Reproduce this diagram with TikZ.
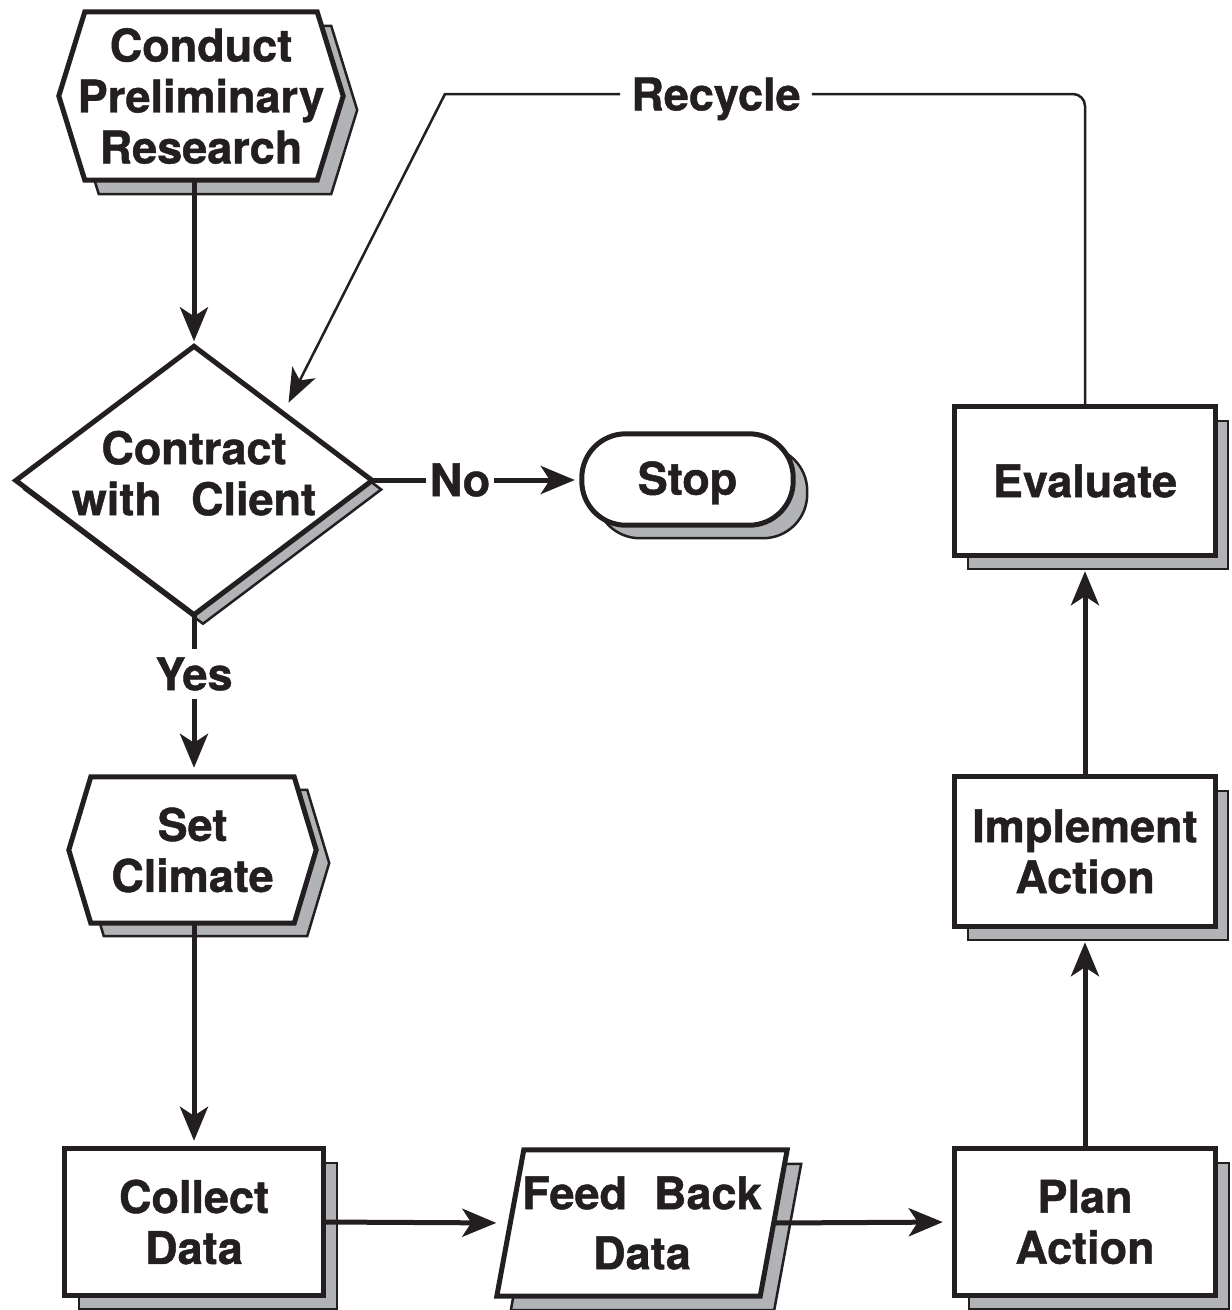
\documentclass[tikz,border=0pt]{standalone}
\usepackage{fontspec}
\setmainfont{TeX Gyre Heros}[BoldFeatures={FakeBold=1}]
\usetikzlibrary{arrows.meta,backgrounds,calc}
\definecolor{shadowgray}{HTML}{B1B3B6}
\definecolor{ink}{HTML}{231F20}

% outlines built from the anchors of a named node
\newcommand\hexpts[2]{(#1.west) -- ([xshift=#2]#1.north west) -- ([xshift=-#2]#1.north east) -- (#1.east) -- ([xshift=-#2]#1.south east) -- ([xshift=#2]#1.south west) -- cycle}
\newcommand\diapts[1]{(#1.north) -- (#1.east) -- (#1.south) -- (#1.west) -- cycle}
\newcommand\rectpts[1]{(#1.north west) rectangle (#1.south east)}
\newcommand\slantpts[2]{([xshift=#2]#1.north west) -- ([xshift=#2]#1.north east) -- ([xshift=-#2]#1.south east) -- ([xshift=-#2]#1.south west) -- cycle}

\tikzset{
  txt/.style={font=\fontsize{45}{51}\selectfont\bfseries, text=ink, align=center, inner sep=0pt},
  shapeline/.style={draw=ink, line width=5pt, fill=white, line join=miter, miter limit=10},
  shadowfill/.style={draw=ink, line width=2.5pt, fill=shadowgray, line join=miter, miter limit=10},
  drop/.style 2 args={transform canvas={shift={(#1pt,-#2pt)}}},
  conn/.style={draw=ink, line width=5pt},
  flow/.style={conn, -{Stealth[length=34pt,width=28pt,inset=9pt]}},
  thinconn/.style={draw=ink, line width=2.5pt},
  thinflow/.style={thinconn, -{Stealth[length=34pt,width=26pt,inset=9pt]}},
}

\begin{document}
\begin{tikzpicture}[x=1pt,y=-1pt]
\useasboundingbox (0,0) rectangle (1232,1310);

% process steps
\node[txt, minimum width=284pt, minimum height=168pt] (prep) at (201,96) {Conduct\\Preliminary\\Research};
\node[txt, minimum width=356pt, minimum height=268pt, text depth=15pt] (dia) at (194,480.5) {Contract\\with\hspace{0.65em}Client};
\node[txt, minimum width=211pt, minimum height=91pt, text depth=3pt] (stop) at (687.5,479.5) {Stop};
\node[txt, minimum width=247pt, minimum height=146pt] (clim) at (192.5,850) {Set\\Climate};
\node[txt, minimum width=258pt, minimum height=146pt] (collect) at (194,1222) {Collect\\Data};
\node[txt, font=\fontsize{45}{60}\selectfont\bfseries, minimum width=263pt, minimum height=146pt] (feed) at (642,1223) {Feed\hspace{0.6em}Back\\Data};
\node[txt, minimum width=260pt, minimum height=146pt] (plan) at (1085,1222) {Plan\\Action};
\node[txt, minimum width=260pt, minimum height=149pt] (impl) at (1085,851.5) {Implement\\Action};
\node[txt, minimum width=260pt, minimum height=148pt] (eval) at (1085,481) {Evaluate};

% connector labels
\node[txt, inner xsep=4pt] (no) at (460,480) {No};
\node[txt, inner sep=8pt] (yes) at (194,674) {Yes};
\node[txt, inner xsep=11pt, text depth=0pt] (rec) at (716,94) {Recycle};
\coordinate (bend) at (445,94);

% shapes with their offset shadows
\begin{scope}[on background layer]
  \path[shadowfill, drop={14}{14}] \hexpts{prep}{26pt};
  \path[shapeline] \hexpts{prep}{26pt};
  \path[shadowfill, drop={9}{9}] \diapts{dia};
  \path[shapeline] \diapts{dia};
  \path[shadowfill, drop={14}{13}, rounded corners=44pt] \rectpts{stop};
  \path[shapeline, rounded corners=44pt] \rectpts{stop};
  \path[shadowfill, drop={13}{13}] \hexpts{clim}{22pt};
  \path[shapeline] \hexpts{clim}{22pt};
  \path[shadowfill, drop={14}{14}] \rectpts{collect};
  \path[shapeline] \rectpts{collect};
  \path[shadowfill, drop={14}{14}] \slantpts{feed}{13.5pt};
  \path[shapeline] \slantpts{feed}{13.5pt};
  \path[shadowfill, drop={14}{14}] \rectpts{plan};
  \path[shapeline] \rectpts{plan};
  \path[shadowfill, drop={13}{14}] \rectpts{impl};
  \path[shapeline] \rectpts{impl};
  \path[shadowfill, drop={13}{14}] \rectpts{eval};
  \path[shapeline] \rectpts{eval};
\end{scope}

% connectors
\draw[flow, shorten >=5pt] (prep.south -| dia.north) -- (dia.north);
\draw[conn] (dia.east) -- (dia.east -| no.west);
\draw[flow, shorten >=7pt] (no.east) -- (no.east -| stop.west);
\draw[conn] (dia.south) -- (yes.north);
\draw[flow, shorten >=9pt] (yes.south) -- (yes.south |- clim.north);
\draw[flow, shorten >=8pt] (clim.south -| collect.north) -- (collect.north);
\draw[flow, shorten >=14pt] (collect.east) -- (feed.west);
\draw[flow, shorten >=12pt] (feed.east) -- (plan.west);
\draw[flow, shorten >=16pt] (plan.north) -- (impl.south);
\draw[flow, shorten >=16pt] (impl.north) -- (eval.south);
\draw[thinconn, rounded corners=12pt] (eval.north) |- (rec.east);
\draw[thinflow, shorten >=12pt] (rec.west) -- (bend) -- ($(dia.north)!0.5!(dia.east)$);
\end{tikzpicture}
\end{document}
